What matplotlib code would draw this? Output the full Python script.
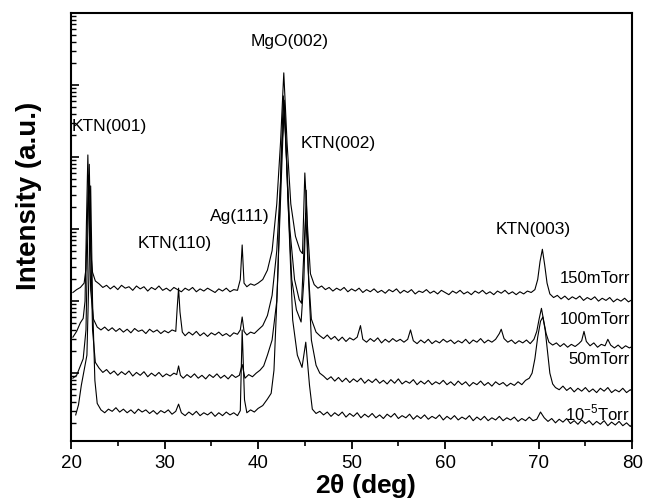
import numpy as np
import matplotlib
matplotlib.use("Agg")
import matplotlib.pyplot as plt
from matplotlib.ticker import MultipleLocator, LogLocator, NullFormatter

# ---- data: 2theta (deg) and log10 intensity (a.u., stacked) ----
tth_150 = [20.2, 20.6, 21.0, 21.4, 21.6, 21.75, 21.85, 21.95, 22.1, 22.3, 22.6, 23.0, 23.4, 23.8, 24.2, 24.6,
           25.0, 25.4, 25.8, 26.2, 26.6, 27.0, 27.4, 27.8, 28.2, 28.6, 29.0, 29.4, 29.8, 30.2, 30.6, 31.0,
           31.4, 31.8, 32.2, 32.6, 33.0, 33.4, 33.8, 34.2, 34.6, 35.0, 35.4, 35.8, 36.2, 36.6, 37.0, 37.4,
           37.8, 38.1, 38.3, 38.5, 38.8, 39.2, 39.6, 40.0, 40.5, 41.0, 41.5, 42.0, 42.4, 42.75, 43.1, 43.5,
           44.0, 44.5, 44.75, 45.0, 45.3, 45.6, 46.0, 46.4, 46.8, 47.2, 47.6, 48.0, 48.4, 48.8, 49.2, 49.6,
           50.0, 50.4, 50.8, 51.2, 51.6, 52.0, 52.4, 52.8, 53.2, 53.6, 54.0, 54.4, 54.8, 55.2, 55.6, 56.0,
           56.4, 56.8, 57.2, 57.6, 58.0, 58.4, 58.8, 59.2, 59.6, 60.0, 60.4, 60.8, 61.2, 61.6, 62.0, 62.4,
           62.8, 63.2, 63.6, 64.0, 64.4, 64.8, 65.2, 65.6, 66.0, 66.4, 66.8, 67.2, 67.6, 68.0, 68.4, 68.8,
           69.2, 69.6, 69.9, 70.15, 70.4, 70.65, 70.9, 71.2, 71.6, 72.0, 72.4, 72.8, 73.2, 73.6, 74.0, 74.4,
           74.8, 75.2, 75.6, 76.0, 76.4, 76.8, 77.2, 77.6, 78.0, 78.4, 78.8, 79.2, 79.6, 80.0]
logI_150 = [2.12, 2.16, 2.19, 2.25, 2.45, 3.15, 3.75, 3.35, 2.70, 2.40, 2.28, 2.24, 2.19, 2.22, 2.17, 2.21,
            2.16, 2.22, 2.18, 2.20, 2.15, 2.21, 2.17, 2.20, 2.14, 2.19, 2.16, 2.21, 2.15, 2.18, 2.14, 2.19,
            2.16, 2.13, 2.18, 2.15, 2.19, 2.13, 2.17, 2.14, 2.18, 2.15, 2.12, 2.17, 2.14, 2.18, 2.13, 2.16,
            2.15, 2.30, 2.78, 2.25, 2.20, 2.24, 2.22, 2.25, 2.30, 2.43, 2.70, 3.35, 4.20, 5.17, 4.20, 3.35,
            2.90, 2.70, 2.66, 3.78, 3.00, 2.38, 2.23, 2.18, 2.21, 2.16, 2.19, 2.14, 2.18, 2.15, 2.19, 2.13,
            2.17, 2.14, 2.18, 2.12, 2.16, 2.13, 2.17, 2.12, 2.15, 2.11, 2.16, 2.13, 2.17, 2.11, 2.15, 2.12,
            2.16, 2.10, 2.14, 2.12, 2.16, 2.11, 2.14, 2.10, 2.15, 2.12, 2.09, 2.14, 2.11, 2.15, 2.10, 2.13,
            2.09, 2.14, 2.11, 2.15, 2.10, 2.13, 2.09, 2.14, 2.11, 2.15, 2.10, 2.13, 2.09, 2.13, 2.10, 2.14,
            2.12, 2.16, 2.30, 2.55, 2.72, 2.50, 2.25, 2.10, 2.05, 2.08, 2.03, 2.07, 2.02, 2.06, 2.03, 2.07,
            2.01, 2.05, 2.02, 2.06, 2.00, 2.04, 2.01, 2.05, 1.99, 2.03, 2.00, 2.04, 1.99, 2.02]

tth_100 = [20.2, 20.6, 21.0, 21.3, 21.5, 21.65, 21.8, 21.95, 22.1, 22.4, 22.8, 23.2, 23.6, 24.0, 24.4, 24.8,
           25.2, 25.6, 26.0, 26.4, 26.8, 27.2, 27.6, 28.0, 28.4, 28.8, 29.2, 29.6, 30.0, 30.4, 30.8, 31.2,
           31.35, 31.5, 31.65, 31.9, 32.2, 32.6, 33.0, 33.4, 33.8, 34.2, 34.6, 35.0, 35.4, 35.8, 36.2, 36.6,
           37.0, 37.4, 37.8, 38.1, 38.3, 38.5, 38.8, 39.2, 39.6, 40.0, 40.5, 41.0, 41.5, 42.0, 42.4, 42.7,
           43.0, 43.4, 43.9, 44.4, 44.65, 44.9, 45.1, 45.35, 45.7, 46.2, 46.6, 47.0, 47.4, 47.8, 48.2, 48.6,
           49.0, 49.4, 49.8, 50.2, 50.6, 50.95, 51.2, 51.6, 52.0, 52.4, 52.8, 53.2, 53.6, 54.0, 54.4, 54.8,
           55.2, 55.6, 56.0, 56.3, 56.6, 57.0, 57.4, 57.8, 58.2, 58.6, 59.0, 59.4, 59.8, 60.2, 60.6, 61.0,
           61.4, 61.8, 62.2, 62.6, 63.0, 63.4, 63.8, 64.2, 64.6, 65.0, 65.4, 65.8, 66.0, 66.3, 66.7, 67.1,
           67.5, 67.9, 68.3, 68.7, 69.1, 69.5, 69.8, 70.05, 70.3, 70.55, 70.8, 71.1, 71.5, 71.9, 72.3, 72.7,
           73.1, 73.5, 73.9, 74.3, 74.6, 74.85, 75.1, 75.5, 75.9, 76.3, 76.7, 77.1, 77.4, 77.7, 78.1, 78.5,
           78.9, 79.3, 79.7, 80.0]
logI_100 = [1.50, 1.58, 1.70, 1.76, 2.00, 3.10, 4.03, 3.10, 2.15, 1.75, 1.64, 1.60, 1.64, 1.59, 1.63, 1.58,
            1.62, 1.57, 1.61, 1.56, 1.62, 1.58, 1.60, 1.55, 1.61, 1.57, 1.60, 1.55, 1.59, 1.56, 1.60, 1.58,
            1.90, 2.18, 1.85, 1.57, 1.52, 1.57, 1.53, 1.58, 1.52, 1.56, 1.51, 1.56, 1.53, 1.57, 1.52, 1.55,
            1.51, 1.56, 1.54, 1.60, 1.78, 1.58, 1.53, 1.57, 1.55, 1.60, 1.66, 1.80, 2.08, 2.70, 3.65, 4.85,
            4.10, 3.00, 2.30, 2.02, 1.97, 2.70, 3.22, 2.45, 1.75, 1.57, 1.52, 1.48, 1.53, 1.47, 1.51, 1.45,
            1.50, 1.44, 1.49, 1.46, 1.50, 1.66, 1.47, 1.43, 1.48, 1.44, 1.49, 1.42, 1.47, 1.43, 1.48, 1.44,
            1.47, 1.43, 1.47, 1.60, 1.45, 1.41, 1.46, 1.42, 1.47, 1.41, 1.45, 1.42, 1.47, 1.43, 1.46, 1.41,
            1.45, 1.42, 1.47, 1.41, 1.46, 1.43, 1.48, 1.42, 1.46, 1.43, 1.47, 1.55, 1.61, 1.48, 1.43, 1.46,
            1.41, 1.45, 1.42, 1.46, 1.41, 1.47, 1.58, 1.75, 1.90, 1.72, 1.55, 1.43, 1.39, 1.42, 1.37, 1.41,
            1.36, 1.40, 1.37, 1.41, 1.45, 1.58, 1.44, 1.38, 1.42, 1.36, 1.40, 1.38, 1.47, 1.39, 1.35, 1.39,
            1.34, 1.38, 1.35, 1.37]

tth_50 = [20.2, 20.6, 21.0, 21.3, 21.6, 21.8, 21.95, 22.1, 22.3, 22.6, 23.0, 23.4, 23.8, 24.2, 24.6, 25.0,
          25.4, 25.8, 26.2, 26.6, 27.0, 27.4, 27.8, 28.2, 28.6, 29.0, 29.4, 29.8, 30.2, 30.6, 31.0, 31.3,
          31.5, 31.7, 32.0, 32.4, 32.8, 33.2, 33.6, 34.0, 34.4, 34.8, 35.2, 35.6, 36.0, 36.4, 36.8, 37.2,
          37.6, 38.0, 38.3, 38.6, 39.0, 39.4, 39.8, 40.2, 40.6, 41.0, 41.5, 42.0, 42.4, 42.8, 43.2, 43.6,
          44.1, 44.6, 44.9, 45.15, 45.4, 45.7, 46.2, 46.6, 47.0, 47.4, 47.8, 48.2, 48.6, 49.0, 49.4, 49.8,
          50.2, 50.6, 51.0, 51.4, 51.8, 52.2, 52.6, 53.0, 53.4, 53.8, 54.2, 54.6, 55.0, 55.4, 55.8, 56.2,
          56.6, 57.0, 57.4, 57.8, 58.2, 58.6, 59.0, 59.4, 59.8, 60.2, 60.6, 61.0, 61.4, 61.8, 62.2, 62.6,
          63.0, 63.4, 63.8, 64.2, 64.6, 65.0, 65.4, 65.8, 66.2, 66.6, 67.0, 67.4, 67.8, 68.2, 68.6, 69.0,
          69.3, 69.6, 69.9, 70.2, 70.45, 70.7, 70.95, 71.2, 71.5, 71.8, 72.2, 72.6, 73.0, 73.4, 73.8, 74.2,
          74.6, 75.0, 75.4, 75.8, 76.2, 76.6, 77.0, 77.4, 77.8, 78.2, 78.6, 79.0, 79.4, 79.8, 80.0]
logI_50 = [0.93, 0.97, 1.10, 1.20, 1.60, 3.00, 3.90, 2.85, 1.60, 1.15, 1.07, 1.01, 1.05, 0.99, 1.03, 0.97,
           1.02, 0.98, 1.03, 0.96, 1.01, 0.97, 1.02, 0.95, 1.00, 0.96, 1.01, 0.95, 0.99, 0.96, 1.00, 0.98,
           1.10, 0.97, 0.93, 0.98, 0.94, 0.99, 0.93, 0.97, 0.92, 0.98, 0.94, 0.99, 0.93, 0.97, 0.92, 0.98,
           0.94, 0.97, 1.12, 0.93, 0.98, 0.95, 1.00, 1.04, 1.10, 1.25, 1.46, 2.00, 3.40, 4.79, 3.40, 2.30,
           1.88, 1.71, 2.30, 3.54, 2.30, 1.46, 1.11, 1.00, 0.96, 0.91, 0.95, 0.89, 0.94, 0.88, 0.93, 0.87,
           0.92, 0.88, 0.93, 0.86, 0.91, 0.87, 0.92, 0.86, 0.90, 0.85, 0.91, 0.86, 0.92, 0.85, 0.89, 0.86,
           0.91, 0.84, 0.89, 0.85, 0.90, 0.84, 0.88, 0.85, 0.90, 0.84, 0.88, 0.83, 0.89, 0.84, 0.88, 0.82,
           0.87, 0.84, 0.89, 0.83, 0.87, 0.82, 0.88, 0.84, 0.87, 0.82, 0.86, 0.83, 0.88, 0.84, 0.90, 0.93,
           1.00, 1.20, 1.50, 1.72, 1.78, 1.60, 1.30, 1.00, 0.85, 0.80, 0.77, 0.82, 0.76, 0.80, 0.74, 0.79,
           0.75, 0.80, 0.74, 0.78, 0.73, 0.79, 0.75, 0.80, 0.73, 0.77, 0.74, 0.79, 0.73, 0.77, 0.75]

tth_1e5 = [20.5, 20.8, 21.1, 21.4, 21.7, 21.9, 22.1, 22.3, 22.55, 22.8, 23.2, 23.6, 24.0, 24.4, 24.8, 25.2,
           25.6, 26.0, 26.4, 26.8, 27.2, 27.6, 28.0, 28.4, 28.8, 29.2, 29.6, 30.0, 30.4, 30.8, 31.2, 31.5,
           31.8, 32.2, 32.6, 33.0, 33.4, 33.8, 34.2, 34.6, 35.0, 35.4, 35.8, 36.2, 36.6, 37.0, 37.4, 37.8,
           38.1, 38.3, 38.55, 38.8, 39.2, 39.6, 40.0, 40.5, 41.0, 41.4, 41.7, 42.1, 42.5, 42.85, 43.2, 43.7,
           44.2, 44.7, 45.1, 45.5, 45.8, 46.2, 46.6, 47.0, 47.4, 47.8, 48.2, 48.6, 49.0, 49.4, 49.8, 50.2,
           50.6, 51.0, 51.4, 51.8, 52.2, 52.6, 53.0, 53.4, 53.8, 54.2, 54.6, 55.0, 55.4, 55.8, 56.2, 56.6,
           57.0, 57.4, 57.8, 58.2, 58.6, 59.0, 59.4, 59.8, 60.2, 60.6, 61.0, 61.4, 61.8, 62.2, 62.6, 63.0,
           63.4, 63.8, 64.2, 64.6, 65.0, 65.4, 65.8, 66.2, 66.6, 67.0, 67.4, 67.8, 68.2, 68.6, 69.0, 69.4,
           69.8, 70.2, 70.6, 71.0, 71.4, 71.8, 72.2, 72.6, 73.0, 73.4, 73.8, 74.2, 74.6, 75.0, 75.4, 75.8,
           76.2, 76.6, 77.0, 77.4, 77.8, 78.2, 78.6, 79.0, 79.4, 79.8, 80.0]
logI_1e5 = [0.42, 0.56, 0.83, 1.04, 1.25, 2.30, 3.60, 2.00, 0.90, 0.58, 0.49, 0.45, 0.50, 0.47, 0.52, 0.46,
            0.50, 0.45, 0.49, 0.44, 0.50, 0.46, 0.49, 0.44, 0.48, 0.43, 0.48, 0.45, 0.49, 0.43, 0.47, 0.57,
            0.45, 0.41, 0.46, 0.42, 0.47, 0.41, 0.45, 0.42, 0.46, 0.40, 0.45, 0.41, 0.46, 0.42, 0.45, 0.41,
            0.48, 1.60, 0.63, 0.45, 0.49, 0.46, 0.51, 0.55, 0.64, 0.72, 1.04, 2.30, 4.10, 4.65, 3.40, 1.74,
            1.25, 1.08, 1.43, 0.83, 0.50, 0.44, 0.47, 0.42, 0.46, 0.40, 0.45, 0.41, 0.46, 0.39, 0.44, 0.40,
            0.45, 0.38, 0.43, 0.39, 0.44, 0.38, 0.42, 0.37, 0.43, 0.39, 0.44, 0.37, 0.41, 0.38, 0.43, 0.36,
            0.41, 0.37, 0.42, 0.36, 0.40, 0.37, 0.42, 0.35, 0.40, 0.36, 0.41, 0.35, 0.39, 0.36, 0.41, 0.34,
            0.39, 0.35, 0.40, 0.34, 0.38, 0.35, 0.40, 0.34, 0.38, 0.35, 0.39, 0.33, 0.37, 0.34, 0.39, 0.34,
            0.36, 0.46, 0.38, 0.33, 0.37, 0.31, 0.36, 0.32, 0.37, 0.30, 0.34, 0.29, 0.35, 0.30, 0.34, 0.28,
            0.33, 0.29, 0.34, 0.27, 0.32, 0.28, 0.33, 0.27, 0.31, 0.26, 0.29]

series_tth = [tth_150, tth_100, tth_50, tth_1e5]
series_logI = [logI_150, logI_100, logI_50, logI_1e5]

peak_labels = ["KTN(001)", "MgO(002)", "KTN(002)", "Ag(111)", "KTN(110)", "KTN(003)"]
peak_label_x = [20.05, 43.4, 44.5, 34.9, 27.1, 65.4]
peak_label_logy = [4.42, 5.60, 4.19, 3.17, 2.80, 2.99]
peak_label_ha = ["left", "center", "left", "left", "left", "left"]

pressure_labels = ["150mTorr", "100mTorr", "50mTorr", r"10$^{\mathregular{-5}}$Torr"]
pressure_label_logy = [2.32, 1.75, 1.19, 0.44]

# ---- figure ----
plt.rcParams['font.family'] = ['Liberation Sans', 'DejaVu Sans']
fig = plt.figure(figsize=(6.54, 5.03), dpi=100)
ax = fig.add_axes([0.1086, 0.123, 0.858, 0.851])

for t, l in zip(series_tth, series_logI):
    ax.plot(t, np.power(10.0, np.array(l)), color='black', lw=0.8)

ax.set_yscale('log')
ax.set_xlim(20, 80)
ax.set_ylim(10 ** 0.056, 1e6)

ax.xaxis.set_major_locator(MultipleLocator(10))
ax.xaxis.set_minor_locator(MultipleLocator(5))
ax.yaxis.set_major_locator(LogLocator(base=10))
ax.yaxis.set_minor_locator(LogLocator(base=10, subs=np.arange(2, 10)))
ax.yaxis.set_major_formatter(NullFormatter())
ax.yaxis.set_minor_formatter(NullFormatter())

ax.tick_params(axis='x', which='major', direction='out', length=6, width=1.3,
               labelsize=13.5, top=False, pad=4)
ax.tick_params(axis='x', which='minor', direction='out', length=3.5, width=1.2, top=False)
ax.tick_params(axis='y', which='major', direction='in', length=6, width=1.2, right=False)
ax.tick_params(axis='y', which='minor', direction='in', length=3.5, width=1.0, right=False)

for s in ax.spines.values():
    s.set_linewidth(1.5)

for txt, x, ly, ha in zip(peak_labels, peak_label_x, peak_label_logy, peak_label_ha):
    ax.text(x, 10 ** ly, txt, fontsize=12.5, ha=ha, va='center')

for txt, ly in zip(pressure_labels, pressure_label_logy):
    ax.text(79.75, 10 ** ly, txt, fontsize=12, ha='right', va='center')

ax.set_xlabel(r'2$\mathregular{\theta}$ (deg)', fontsize=19, fontweight='bold')
ax.set_ylabel('Intensity (a.u.)', fontsize=20, fontweight='bold')
ax.xaxis.set_label_coords(0.526, -0.072)
ax.yaxis.set_label_coords(-0.052, 0.572)

fig.savefig('out.png', dpi=100)
